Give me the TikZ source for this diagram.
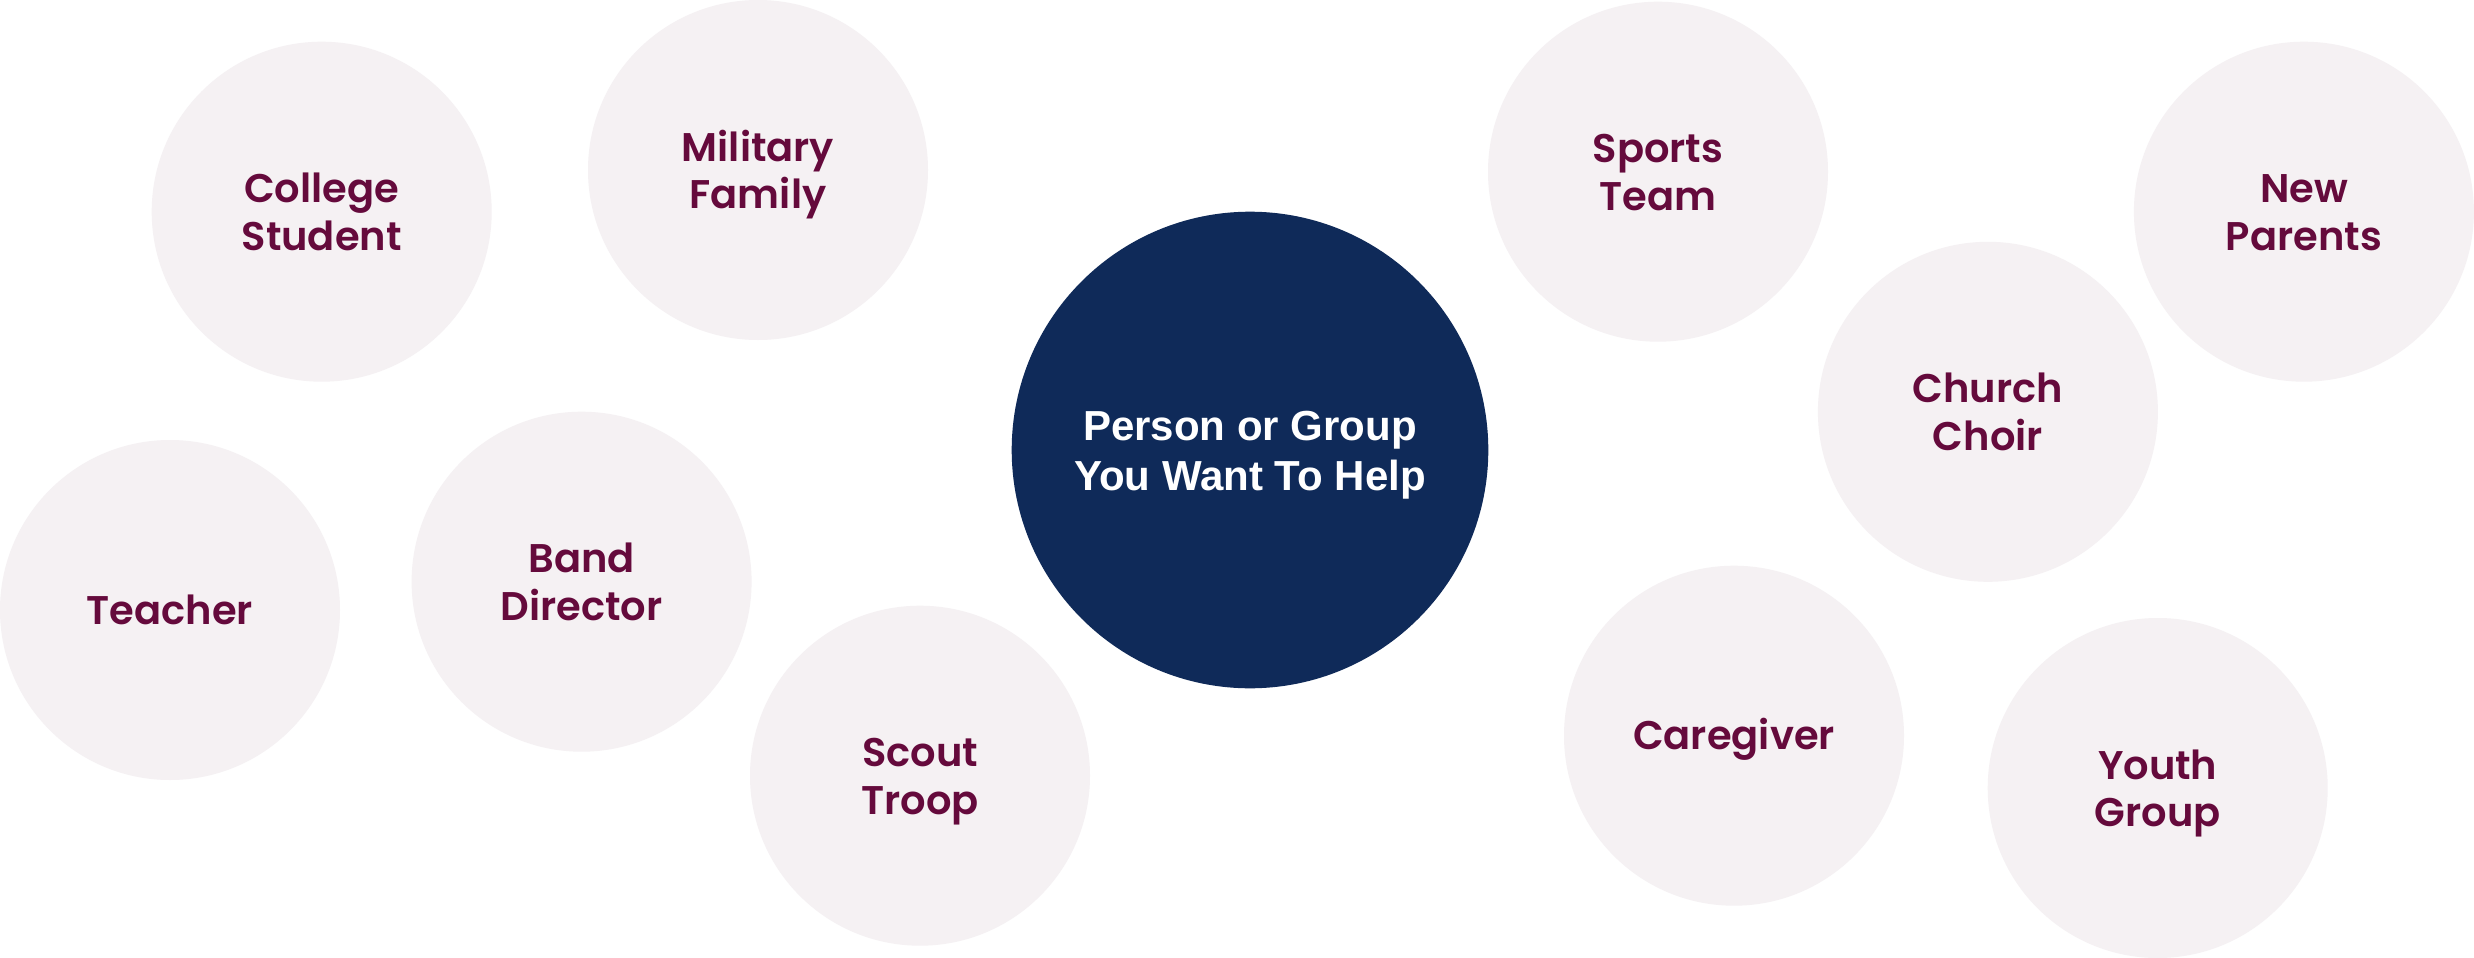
\documentclass[tikz,border=0pt]{standalone}
\usepackage{fontspec}
\newfontfamily\bubfont{Poppins SemiBold}
\newfontfamily\hubfont{Liberation Sans}
\definecolor{bubfill}{RGB}{245,241,243}
\definecolor{bubtext}{RGB}{101,10,60}
\definecolor{hubfill}{RGB}{15,42,89}
\begin{document}
\begin{tikzpicture}[x=1pt,y=-1pt,
  bubble/.style={circle, fill=bubfill, minimum size=340pt, inner sep=0pt},
  hub/.style={circle, fill=hubfill, minimum size=476.6pt, inner sep=0pt},
  lbl/.style={anchor=base, text=bubtext, inner sep=0pt, font=\bubfont\fontsize{40}{47}\selectfont},
  hublbl/.style={anchor=base, text=white, inner sep=0pt, font=\hubfont\bfseries\fontsize{42}{50}\selectfont}]
\useasboundingbox[fill=white] (0,0) rectangle (2474,958);
% hub
\node[hub] (hub) at (1250,450) {};
\node[hublbl] (hub1) at ([yshift=10pt]hub.center) {Person or Group};
\node[hublbl] (hub2) at ([yshift=-40pt]hub.center) {You Want To Help};
% bubbles
\node[bubble] (college) at (321.7,211.7) {};
\node[lbl] (college1) at ([yshift=9pt]college.center) {College};
\node[lbl] (college2) at ([yshift=-38.5pt]college.center) {Student};
\node[bubble] (military) at (758,170) {};
\node[lbl] (military1) at ([yshift=9pt]military.center) {Military};
\node[lbl] (military2) at ([yshift=-38.5pt]military.center) {Family};
\node[bubble] (teacher) at (170,610) {};
\node[lbl] (teacher1) at ([yshift=-14pt]teacher.center) {Teacher};
\node[bubble] (band) at (581.6,581.7) {};
\node[lbl] (band1) at ([yshift=9pt]band.center) {Band};
\node[lbl] (band2) at ([yshift=-38.5pt]band.center) {Director};
\node[bubble] (scout) at (920,775.7) {};
\node[lbl] (scout1) at ([yshift=9pt]scout.center) {Scout};
\node[lbl] (scout2) at ([yshift=-38.5pt]scout.center) {Troop};
\node[bubble] (sports) at (1658,171.7) {};
\node[lbl] (sports1) at ([yshift=9pt]sports.center) {Sports};
\node[lbl] (sports2) at ([yshift=-38.5pt]sports.center) {Team};
\node[bubble] (parents) at (2303.9,211.7) {};
\node[lbl] (parents1) at ([yshift=9pt]parents.center) {New};
\node[lbl] (parents2) at ([yshift=-38.5pt]parents.center) {Parents};
\node[bubble] (choir) at (1987.9,411.8) {};
\node[lbl] (choir1) at ([yshift=9pt]choir.center) {Church};
\node[lbl] (choir2) at ([yshift=-38.5pt]choir.center) {Choir};
\node[bubble] (care) at (1734,735.7) {};
\node[lbl] (care1) at ([yshift=-14pt]care.center) {Caregiver};
\node[bubble] (youth) at (2157.7,788) {};
\node[lbl] (youth1) at ([yshift=9pt]youth.center) {Youth};
\node[lbl] (youth2) at ([yshift=-38.5pt]youth.center) {Group};
\end{tikzpicture}
\end{document}
